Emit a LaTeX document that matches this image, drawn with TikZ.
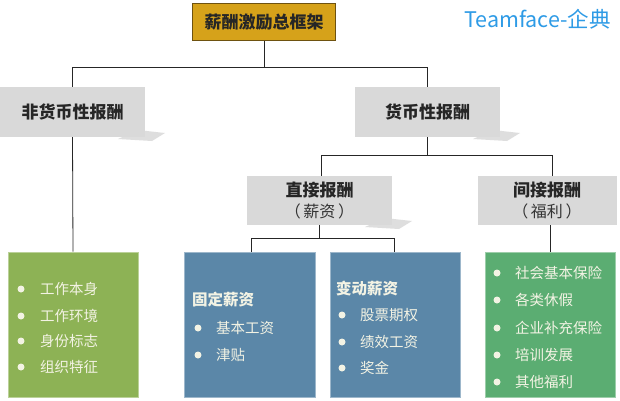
\documentclass[tikz,border=0pt]{standalone}
\usepackage{fontspec}
\newfontfamily\cjk{Noto Sans CJK SC}
\tikzset{
  x=1pt,y=-1pt,
  conn/.style={draw=black!85,line width=0.8pt},
  graybox/.style={fill=boxgray,draw=none},
  headtxt/.style={font=\cjk\bfseries\fontsize{17}{19}\selectfont,text=black!85,align=center},
  subtxt/.style={font=\cjk\fontsize{16}{18}\selectfont,text=black!80},
  itemtxt/.style={font=\cjk\fontsize{14.5}{16}\selectfont,text=itemcol,anchor=west,inner sep=0pt},
  subhead/.style={font=\cjk\bfseries\fontsize{15.5}{17}\selectfont,text=itemcol,anchor=west,inner sep=0pt},
  bul/.style={circle,fill=itemcol,inner sep=0pt,minimum size=7pt},
  shadowpoly/.style={fill=black!25,opacity=0.5,draw=none}
}
\definecolor{boxgray}{HTML}{D9D9D9}
\definecolor{goldfill}{HTML}{D6A21A}
\definecolor{goldline}{HTML}{6E5210}
\definecolor{olive}{HTML}{8DB255}
\definecolor{steel}{HTML}{5B87A8}
\definecolor{jade}{HTML}{5BAD72}
\definecolor{itemcol}{HTML}{F3F3E4}
\definecolor{brandblue}{HTML}{2E9BE6}
\begin{document}
\begin{tikzpicture}
\useasboundingbox (0,0) rectangle (620,400);
\fill[white] (0,0) rectangle (620,400);
% title
\node[draw=goldline,line width=1pt,fill=goldfill,minimum width=143pt,minimum height=37pt,inner sep=0pt,font=\cjk\bfseries\fontsize{17}{19}\selectfont,text=black!85] (top) at (264,22) {薪酬激励总框架};
\node[font=\cjk\fontsize{21.5}{24}\selectfont,text=brandblue,anchor=west,inner sep=0pt] (brand) at (464,19) {Teamface-企典};
% shadows
\fill[shadowpoly] (138,130) -- (165,133) -- (152,141) -- (118,139) -- cycle;
\fill[shadowpoly] (493,130) -- (520,133) -- (507,141) -- (473,139) -- cycle;
\fill[shadowpoly] (385,218) -- (412,221) -- (399,229) -- (365,227) -- cycle;
% level 1
\node[graybox,minimum width=145pt,minimum height=50pt,inner sep=0pt,headtxt] (nonmon) at (72.5,112) {非货币性报酬};
\node[graybox,minimum width=145pt,minimum height=50pt,inner sep=0pt,headtxt] (mon) at (427.5,112) {货币性报酬};
% level 2
\node[graybox,minimum width=145pt,minimum height=49pt,inner sep=0pt,align=center] (direct) at (319.5,200.5) {};
\node[headtxt,inner sep=0pt] (directt) at (319.5,190) {直接报酬};
\node[subtxt,inner sep=0pt] (directs) at (319.5,211) {（\,薪资\,）};
\node[graybox,minimum width=139pt,minimum height=49pt,inner sep=0pt] (indirect) at (547.5,200.5) {};
\node[headtxt,inner sep=0pt] (indirectt) at (547,190) {间接报酬};
\node[subtxt,inner sep=0pt] (indirects) at (547,211) {（\,福利\,）};
% level 3 boxes
\node[fill=olive,draw=olive!60!white,line width=0.6pt,minimum width=130pt,minimum height=145pt,inner sep=0pt] (nmbox) at (73,324.5) {};
\node[fill=steel,draw=steel!60!white,line width=0.6pt,minimum width=131pt,minimum height=145pt,inner sep=0pt] (fixbox) at (249.5,324.5) {};
\node[fill=steel,draw=steel!60!white,line width=0.6pt,minimum width=130pt,minimum height=145pt,inner sep=0pt] (varbox) at (395,324.5) {};
\node[fill=jade,draw=jade!60!white,line width=0.6pt,minimum width=130pt,minimum height=145pt,inner sep=0pt] (welbox) at (550,324.5) {};
% connectors
\coordinate (j1) at (264,68);
\draw[conn] (top.south) -- (j1);
\draw[conn] (nonmon.north) -- ++(0,-19) -| (mon.north);
\draw[conn] (nonmon.south) -- (nmbox.north);
\draw[conn] (mon.south) -- ++(0,18) coordinate (j2);
\draw[conn] (j2) ++(-106,0) coordinate (j2l) -- ++(231,0) coordinate (j2r);
\draw[conn] (j2l) -- (direct.north -| j2l);
\draw[conn] (j2r) -- (indirect.north -| j2r);
\draw[conn] (direct.south) -- ++(0,13) coordinate (j3);
\draw[conn] (j3) ++(-68.5,0) coordinate (j3l) -- ++(143,0) coordinate (j3r);
\draw[conn] (j3l) -- (fixbox.north -| j3l);
\draw[conn] (j3r) -- (varbox.north -| j3r);
\draw[conn] (indirect.south -| welbox.north) -- (welbox.north);
% non-monetary items
\foreach \y/\t [count=\i] in {289/工作本身,316/工作环境,341/身份标志,367/组织特征}{
  \node[bul] (nb\i) at (21,\y) {};
  \node[itemtxt] (nt\i) at (40,\y) {\t};
}
% fixed pay
\node[subhead] (fixh) at (192,300) {固定薪资};
\foreach \y/\t [count=\i] in {328/基本工资,355/津贴}{
  \node[bul] (fb\i) at (198,\y) {};
  \node[itemtxt] (ft\i) at (216,\y) {\t};
}
% variable pay
\node[subhead] (varh) at (336,289) {变动薪资};
\foreach \y/\t [count=\i] in {315/股票期权,342/绩效工资,368/奖金}{
  \node[bul] (vb\i) at (342,\y) {};
  \node[itemtxt] (vt\i) at (360,\y) {\t};
}
% welfare
\foreach \y/\t [count=\i] in {273/社会基本保险,300/各类休假,328/企业补充保险,355/培训发展,382/其他福利}{
  \node[bul] (wb\i) at (497,\y) {};
  \node[itemtxt] (wt\i) at (515,\y) {\t};
}
\end{tikzpicture}
\end{document}
